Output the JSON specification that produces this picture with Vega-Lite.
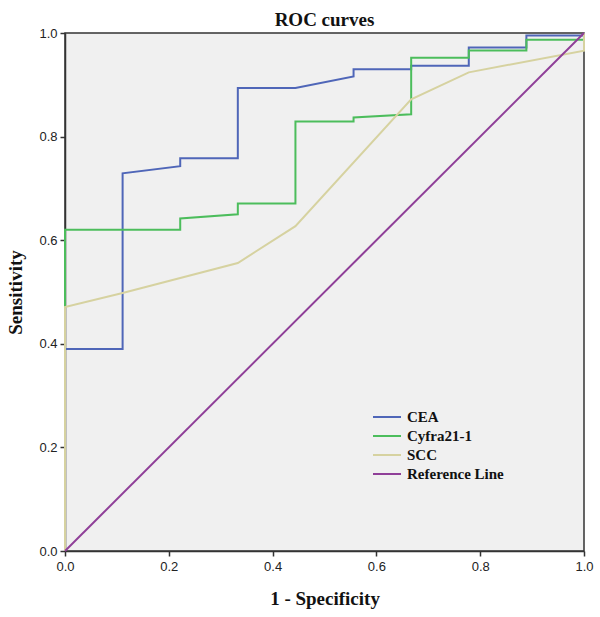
{
  "$schema": "https://vega.github.io/schema/vega-lite/v6.json",
  "autosize": "none",
  "width": 519,
  "height": 518,
  "padding": {"left": 65, "top": 33, "right": 16, "bottom": 66},
  "background": "white",
  "title": {"text": "ROC curves", "font": "Liberation Serif", "fontSize": 19, "fontWeight": "bold", "color": "#111", "anchor": "middle", "offset": -3},
  "config": {
    "view": {"fill": "#f0f0f0", "stroke": "#333", "strokeWidth": 1.5},
    "axis": {"grid": false, "domainColor": "#333", "domainWidth": 1.5, "tickColor": "#333", "tickWidth": 1.5, "tickSize": 5, "labelFont": "Liberation Sans", "labelFontSize": 13, "labelColor": "#222", "labelFlush": false, "titleFont": "Liberation Serif", "titleFontSize": 19, "titleFontWeight": "bold", "titleColor": "#111"}
  },
  "data": {"values": [
    {"series": "CEA", "i": 0, "x": 0, "y": 0},
    {"series": "CEA", "i": 1, "x": 0, "y": 0.39},
    {"series": "CEA", "i": 2, "x": 0.111, "y": 0.39},
    {"series": "CEA", "i": 3, "x": 0.111, "y": 0.729},
    {"series": "CEA", "i": 4, "x": 0.222, "y": 0.743},
    {"series": "CEA", "i": 5, "x": 0.222, "y": 0.758},
    {"series": "CEA", "i": 6, "x": 0.333, "y": 0.758},
    {"series": "CEA", "i": 7, "x": 0.333, "y": 0.894},
    {"series": "CEA", "i": 8, "x": 0.444, "y": 0.894},
    {"series": "CEA", "i": 9, "x": 0.556, "y": 0.916},
    {"series": "CEA", "i": 10, "x": 0.556, "y": 0.93},
    {"series": "CEA", "i": 11, "x": 0.667, "y": 0.93},
    {"series": "CEA", "i": 12, "x": 0.667, "y": 0.937},
    {"series": "CEA", "i": 13, "x": 0.778, "y": 0.937},
    {"series": "CEA", "i": 14, "x": 0.778, "y": 0.972},
    {"series": "CEA", "i": 15, "x": 0.889, "y": 0.972},
    {"series": "CEA", "i": 16, "x": 0.889, "y": 0.995},
    {"series": "CEA", "i": 17, "x": 1, "y": 0.995},
    {"series": "CEA", "i": 18, "x": 1, "y": 1},
    {"series": "Cyfra21-1", "i": 0, "x": 0, "y": 0},
    {"series": "Cyfra21-1", "i": 1, "x": 0, "y": 0.62},
    {"series": "Cyfra21-1", "i": 2, "x": 0.222, "y": 0.62},
    {"series": "Cyfra21-1", "i": 3, "x": 0.222, "y": 0.642},
    {"series": "Cyfra21-1", "i": 4, "x": 0.333, "y": 0.65},
    {"series": "Cyfra21-1", "i": 5, "x": 0.333, "y": 0.671},
    {"series": "Cyfra21-1", "i": 6, "x": 0.444, "y": 0.671},
    {"series": "Cyfra21-1", "i": 7, "x": 0.444, "y": 0.829},
    {"series": "Cyfra21-1", "i": 8, "x": 0.556, "y": 0.829},
    {"series": "Cyfra21-1", "i": 9, "x": 0.556, "y": 0.837},
    {"series": "Cyfra21-1", "i": 10, "x": 0.667, "y": 0.843},
    {"series": "Cyfra21-1", "i": 11, "x": 0.667, "y": 0.952},
    {"series": "Cyfra21-1", "i": 12, "x": 0.778, "y": 0.952},
    {"series": "Cyfra21-1", "i": 13, "x": 0.778, "y": 0.966},
    {"series": "Cyfra21-1", "i": 14, "x": 0.889, "y": 0.966},
    {"series": "Cyfra21-1", "i": 15, "x": 0.889, "y": 0.987},
    {"series": "Cyfra21-1", "i": 16, "x": 1, "y": 0.987},
    {"series": "Cyfra21-1", "i": 17, "x": 1, "y": 1},
    {"series": "SCC", "i": 0, "x": 0, "y": 0},
    {"series": "SCC", "i": 1, "x": 0, "y": 0.471},
    {"series": "SCC", "i": 2, "x": 0.111, "y": 0.498},
    {"series": "SCC", "i": 3, "x": 0.333, "y": 0.556},
    {"series": "SCC", "i": 4, "x": 0.444, "y": 0.627},
    {"series": "SCC", "i": 5, "x": 0.667, "y": 0.872},
    {"series": "SCC", "i": 6, "x": 0.778, "y": 0.924},
    {"series": "SCC", "i": 7, "x": 1, "y": 0.966},
    {"series": "SCC", "i": 8, "x": 1, "y": 1},
    {"series": "Reference Line", "i": 0, "x": 0, "y": 0},
    {"series": "Reference Line", "i": 1, "x": 1, "y": 1}
  ]},
  "mark": {"type": "line", "strokeWidth": 2, "clip": false},
  "encoding": {
    "x": {"field": "x", "type": "quantitative", "scale": {"domain": [0, 1], "nice": false, "zero": false},
      "axis": {"title": "1 - Specificity", "values": [0, 0.2, 0.4, 0.6, 0.8, 1], "format": ".1f", "labelPadding": 4, "titlePadding": 16}},
    "y": {"field": "y", "type": "quantitative", "scale": {"domain": [0, 1], "nice": false, "zero": false},
      "axis": {"title": "Sensitivity", "values": [0, 0.2, 0.4, 0.6, 0.8, 1], "format": ".1f", "labelPadding": 3, "titlePadding": 13}},
    "order": {"field": "i", "type": "quantitative"},
    "color": {"field": "series", "type": "nominal",
      "scale": {"domain": ["CEA", "Cyfra21-1", "SCC", "Reference Line"], "range": ["#4f66b8", "#4cbd5c", "#d6d2a0", "#8f3f98"]},
      "legend": {"title": null, "orient": "none", "legendX": 314, "legendY": 376, "symbolType": "M-2,0H2", "symbolSize": 196, "symbolStrokeWidth": 2, "labelFont": "Liberation Serif", "labelFontSize": 15, "labelFontWeight": "bold", "labelColor": "#111", "labelOffset": 12, "rowPadding": 3, "fillColor": null, "strokeColor": null}}
  }
}
